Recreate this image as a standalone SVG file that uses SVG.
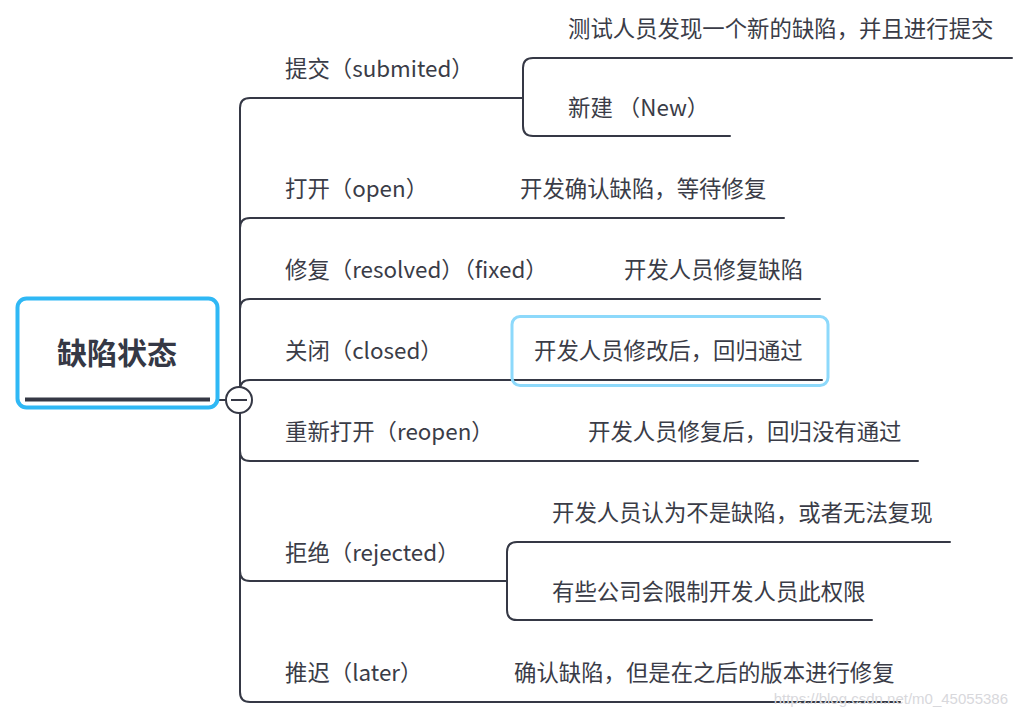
<svg xmlns="http://www.w3.org/2000/svg" width="1017" height="718" viewBox="0 0 1017 718">
<style>
.ln{fill:none;stroke:#353845;stroke-width:2;stroke-linecap:round}
.t{font-family:"Microsoft YaHei","Noto Sans CJK SC",sans-serif;font-size:22.4px;fill:#3a3c47}
.title{font-family:"Microsoft YaHei","Noto Sans CJK SC",sans-serif;font-size:30px;font-weight:bold;fill:#353845}
</style>
<rect width="1017" height="718" fill="#ffffff"/>
<g id="connectors">
<path class="ln" d="M240,400 V108 Q240,98 250,98 H523"/>
<path class="ln" d="M240,400 V228 Q240,218 250,218 H784"/>
<path class="ln" d="M240,400 V309 Q240,299 250,299 H820"/>
<path class="ln" d="M240,400 V390 Q240,380 250,380 H822"/>
<path class="ln" d="M240,400 V451 Q240,461 250,461 H918"/>
<path class="ln" d="M240,400 V571 Q240,581 250,581 H507"/>
<path class="ln" d="M240,400 V692 Q240,702 250,702 H900"/>
<path class="ln" d="M1012,58 H533 Q523,58 523,68 V126 Q523,136 533,136 H730"/>
<path class="ln" d="M950,542 H517 Q507,542 507,552 V610 Q507,620 517,620 H872"/>
<path class="ln" d="M210,400 H226"/>
</g>
<g id="root">
<rect x="17.5" y="298.5" width="200" height="109" rx="9" fill="#ffffff" stroke="#2fb8f5" stroke-width="4"/>
<text class="title" x="117" y="364" text-anchor="middle">缺陷状态</text>
<line x1="25" y1="399.5" x2="210" y2="399.5" stroke="#353845" stroke-width="4"/>
</g>
<g id="collapse">
<circle cx="239" cy="400" r="13" fill="#ffffff" stroke="#353845" stroke-width="2"/>
<line x1="231" y1="400" x2="247" y2="400" stroke="#353845" stroke-width="2"/>
</g>
<g id="n-submited"><text class="t" x="285" y="77">提交（submited）</text></g>
<g id="n-submited-1"><text class="t" x="568" y="37">测试人员发现一个新的缺陷，并且进行提交</text></g>
<g id="n-submited-2"><text class="t" x="568" y="116">新建 （New）</text></g>
<g id="n-open"><text class="t" x="285" y="197">打开（open）</text></g>
<g id="n-open-1"><text class="t" x="520" y="197">开发确认缺陷，等待修复</text></g>
<g id="n-resolved"><text class="t" x="285" y="278">修复（resolved）（fixed）</text></g>
<g id="n-resolved-1"><text class="t" x="624" y="278">开发人员修复缺陷</text></g>
<g id="n-closed"><text class="t" x="285" y="359">关闭（closed）</text></g>
<g id="n-closed-1">
<rect x="512" y="316.5" width="316" height="69" rx="8" fill="none" stroke="#8dd9fb" stroke-width="3"/>
<text class="t" x="534" y="359">开发人员修改后，回归通过</text>
</g>
<g id="n-reopen"><text class="t" x="285" y="440">重新打开（reopen）</text></g>
<g id="n-reopen-1"><text class="t" x="588" y="440">开发人员修复后，回归没有通过</text></g>
<g id="n-rejected"><text class="t" x="285" y="561">拒绝（rejected）</text></g>
<g id="n-rejected-1"><text class="t" x="552" y="521">开发人员认为不是缺陷，或者无法复现</text></g>
<g id="n-rejected-2"><text class="t" x="552" y="600">有些公司会限制开发人员此权限</text></g>
<g id="n-later"><text class="t" x="285" y="681">推迟（later）</text></g>
<g id="n-later-1"><text class="t" x="514" y="681">确认缺陷，但是在之后的版本进行修复</text></g>
<text x="1008" y="704" text-anchor="end" font-family="Liberation Sans, Arial, sans-serif" font-size="15" fill="#d8d8dc">https://blog.csdn.net/m0_45055386</text>
</svg>
